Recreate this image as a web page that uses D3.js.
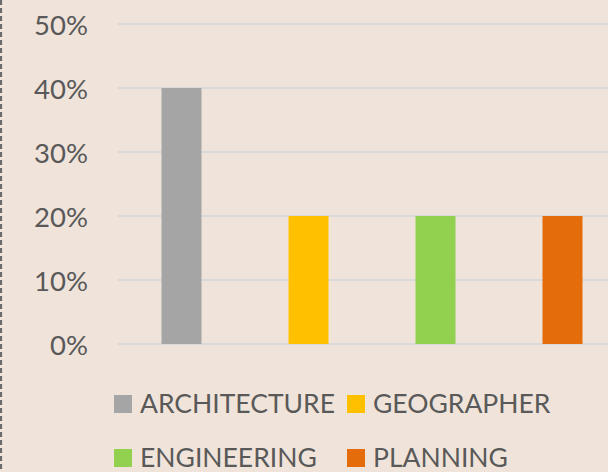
<!DOCTYPE html>
<html><head><meta charset="utf-8">
<script src="https://cdn.jsdelivr.net/npm/d3@7"></script>
<style>
html,body{margin:0;padding:0;background:#F0E4DA;}
svg{display:block;}
</style></head>
<body>
<script>
const categories = ["ARCHITECTURE","GEOGRAPHER","ENGINEERING","PLANNING"];
const values = [0.40, 0.20, 0.20, 0.20];
const colors = ["#A5A5A5","#FFC000","#92D050","#E46C0A"];
const yTicks = [0, 0.1, 0.2, 0.3, 0.4, 0.5];

const W = 608, H = 472;
const svg = d3.select("body").append("svg").attr("width", W).attr("height", H);
svg.append("rect").attr("width", W).attr("height", H).attr("fill", "#F0E4DA");

// dashed border on the left
svg.append("line").attr("x1", 1).attr("x2", 1).attr("y1", 0).attr("y2", H)
  .attr("stroke", "#6b6b6b").attr("stroke-width", 2.2).attr("stroke-dasharray", "5,3");

const x = d3.scaleBand().domain(categories).range([118, 626]).paddingInner(0.685).paddingOuter(0.3425);
const y = d3.scaleLinear().domain([0, 0.5]).range([344, 24]);

const font = "Lato, 'Open Sans', sans-serif";
const axis = d3.axisLeft(y).tickValues(yTicks).tickFormat(d3.format(".0%")).tickSize(0).tickPadding(0);
const g = svg.append("g").attr("transform", "translate(88,0)").call(axis);
g.select(".domain").remove();
g.selectAll("text").attr("fill", "#595959").attr("font-family", font).attr("font-size", 27.5)
  .attr("dy", null).attr("y", 10).attr("x", 0);

// gridlines
svg.append("g").selectAll("line").data(yTicks).join("line")
  .attr("x1", 118).attr("x2", W).attr("y1", d => y(d)).attr("y2", d => y(d))
  .attr("stroke", "#D9D9D9").attr("stroke-width", 2);

svg.append("g").selectAll("rect").data(categories).join("rect")
  .attr("x", d => x(d)).attr("width", x.bandwidth())
  .attr("y", (d, i) => y(values[i])).attr("height", (d, i) => y(0) - y(values[i]))
  .attr("fill", (d, i) => colors[i]);

// legend
const legendPos = [[114, 413], [347, 413], [114, 467], [347, 467]];
const lg = svg.append("g").selectAll("g").data(categories).join("g")
  .attr("transform", (d, i) => `translate(${legendPos[i][0]},${legendPos[i][1]})`);
lg.append("rect").attr("x", 0).attr("y", -18).attr("width", 18).attr("height", 18).attr("fill", (d, i) => colors[i]);
lg.append("text").attr("x", 26).attr("y", 0).text(d => d)
  .attr("fill", "#595959").attr("font-family", font).attr("font-size", 26.5);
</script>
</body></html>
